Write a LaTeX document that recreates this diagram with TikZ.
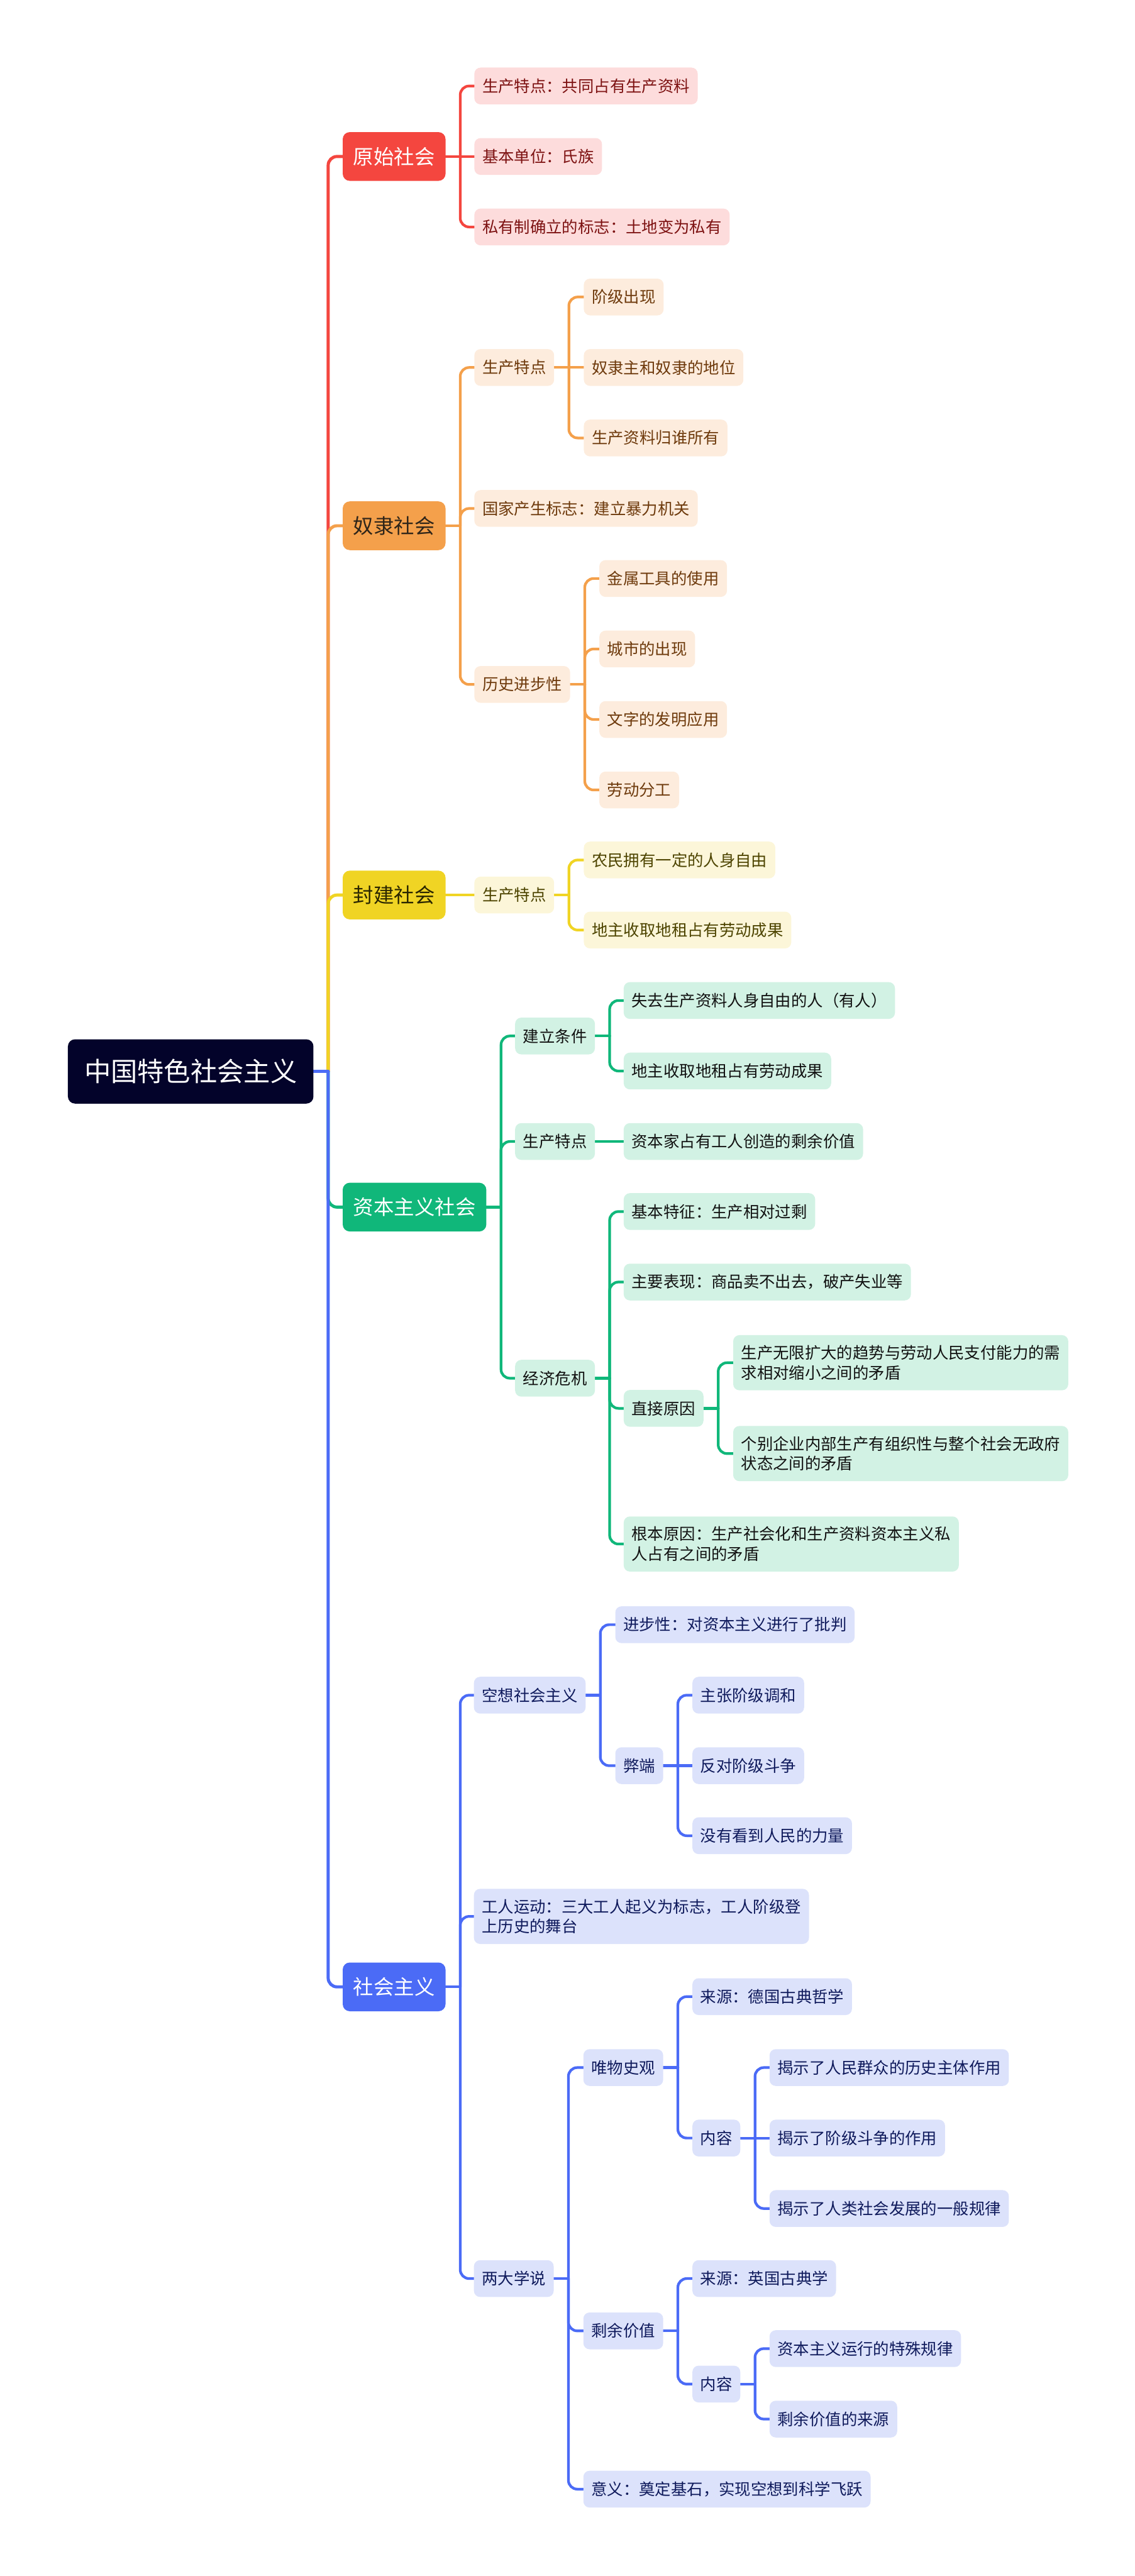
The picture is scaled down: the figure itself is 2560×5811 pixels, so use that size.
\documentclass[tikz,border=0pt]{standalone}
\usepackage{fontspec}
\setmainfont{Noto Sans CJK SC}
\usetikzlibrary{backgrounds}
\definecolor{rootc}{HTML}{03032A}
\definecolor{redm}{HTML}{F4463F}\definecolor{redl}{HTML}{FDDCDC}\definecolor{redt}{HTML}{7D1212}
\definecolor{orm}{HTML}{F4A04B}\definecolor{orl}{HTML}{FDECDD}\definecolor{ort}{HTML}{6E3A0C}\definecolor{ormt}{HTML}{2F2519}
\definecolor{yem}{HTML}{F0D424}\definecolor{yel}{HTML}{FCF6D9}\definecolor{yet}{HTML}{4D4400}\definecolor{yemt}{HTML}{2A2600}
\definecolor{grm}{HTML}{10B77A}\definecolor{grl}{HTML}{D2F2E4}\definecolor{grt}{HTML}{111111}
\definecolor{blm}{HTML}{4B6BF6}\definecolor{bll}{HTML}{DCE2FB}\definecolor{blt}{HTML}{0F1A5C}
\tikzset{
  rootbox/.style={fill=rootc,text=white,rounded corners=16pt,inner xsep=37pt,inner ysep=0pt,minimum height=145pt,anchor=west,font=\fontsize{60}{70}\selectfont},
  lone/.style={rounded corners=16pt,inner xsep=24pt,inner ysep=0pt,minimum height=110pt,anchor=west,font=\fontsize{46}{55}\selectfont},
  sub/.style={rounded corners=14pt,inner xsep=18pt,inner ysep=23pt,minimum height=83pt,anchor=west,align=left,font=\fontsize{36}{45}\selectfont},
  rA/.style={lone,fill=redm,text=white}, rB/.style={sub,fill=redl,text=redt},
  oA/.style={lone,fill=orm,text=ormt}, oB/.style={sub,fill=orl,text=ort},
  yA/.style={lone,fill=yem,text=yemt}, yB/.style={sub,fill=yel,text=yet},
  gA/.style={lone,fill=grm,text=white}, gB/.style={sub,fill=grl,text=grt},
  bA/.style={lone,fill=blm,text=white}, bB/.style={sub,fill=bll,text=blt},
  tk/.style={line width=7pt,line cap=round,rounded corners=20pt},
  br/.style={line width=6pt,line cap=round,rounded corners=20pt},
}
\begin{document}
\begin{tikzpicture}[x=1pt,y=-1pt]
\useasboundingbox (0,0) rectangle (2560,5811);
% root
\node[rootbox] (r) at (153,2417) {中国特色社会主义};
% level 1
\node[rA] (a) at (773,353) {原始社会};
\node[oA] (b) at (773,1186) {奴隶社会};
\node[yA] (c) at (773,2019) {封建社会};
\node[gA] (d) at (773,2723) {资本主义社会};
\node[bA] (e) at (773,4482) {社会主义};
% red
\node[rB] (a1) at (1070,194) {生产特点：共同占有生产资料};
\node[rB] (a2) at (1070,353) {基本单位：氏族};
\node[rB] (a3) at (1070,512) {私有制确立的标志：土地变为私有};
% orange
\node[oB] (b1) at (1070,829) {生产特点};
\node[oB] (b11) at (1317,670) {阶级出现};
\node[oB] (b12) at (1317,829) {奴隶主和奴隶的地位};
\node[oB] (b13) at (1317,988) {生产资料归谁所有};
\node[oB] (b2) at (1070,1147) {国家产生标志：建立暴力机关};
\node[oB] (b3) at (1070,1544) {历史进步性};
\node[oB] (b31) at (1352,1305) {金属工具的使用};
\node[oB] (b32) at (1352,1464) {城市的出现};
\node[oB] (b33) at (1352,1623) {文字的发明应用};
\node[oB] (b34) at (1352,1782) {劳动分工};
% yellow
\node[yB] (c1) at (1070,2019) {生产特点};
\node[yB] (c11) at (1317,1940) {农民拥有一定的人身自由};
\node[yB] (c12) at (1317,2098) {地主收取地租占有劳动成果};
% green
\node[gB] (d1) at (1162,2337) {建立条件};
\node[gB] (d11) at (1407,2257) {失去生产资料人身自由的人（有人）};
\node[gB] (d12) at (1407,2416) {地主收取地租占有劳动成果};
\node[gB] (d2) at (1162,2575) {生产特点};
\node[gB] (d21) at (1407,2575) {资本家占有工人创造的剩余价值};
\node[gB] (d3) at (1162,3109) {经济危机};
\node[gB] (d31) at (1407,2733) {基本特征：生产相对过剩};
\node[gB] (d32) at (1407,2892) {主要表现：商品卖不出去，破产失业等};
\node[gB] (d33) at (1407,3177) {直接原因};
\node[gB] (d331) at (1654,3074) {生产无限扩大的趋势与劳动人民支付能力的需\\求相对缩小之间的矛盾};
\node[gB] (d332) at (1654,3279) {个别企业内部生产有组织性与整个社会无政府\\状态之间的矛盾};
\node[gB] (d34) at (1407,3483) {根本原因：生产社会化和生产资料资本主义私\\人占有之间的矛盾};
% blue
\node[bB] (e1) at (1069,3824) {空想社会主义};
\node[bB] (e11) at (1388,3665) {进步性：对资本主义进行了批判};
\node[bB] (e12) at (1388,3983) {弊端};
\node[bB] (e121) at (1562,3824) {主张阶级调和};
\node[bB] (e122) at (1562,3983) {反对阶级斗争};
\node[bB] (e123) at (1562,4141) {没有看到人民的力量};
\node[bB] (e2) at (1069,4323) {工人运动：三大工人起义为标志，工人阶级登\\上历史的舞台};
\node[bB] (e3) at (1069,5140) {两大学说};
\node[bB] (e31) at (1316,4664) {唯物史观};
\node[bB] (e311) at (1562,4504) {来源：德国古典哲学};
\node[bB] (e312) at (1562,4823) {内容};
\node[bB] (e3121) at (1736,4664) {揭示了人民群众的历史主体作用};
\node[bB] (e3122) at (1736,4823) {揭示了阶级斗争的作用};
\node[bB] (e3123) at (1736,4982) {揭示了人类社会发展的一般规律};
\node[bB] (e32) at (1316,5258) {剩余价值};
\node[bB] (e321) at (1562,5140) {来源：英国古典学};
\node[bB] (e322) at (1562,5378) {内容};
\node[bB] (e3221) at (1736,5298) {资本主义运行的特殊规律};
\node[bB] (e3222) at (1736,5457) {剩余价值的来源};
\node[bB] (e33) at (1316,5615) {意义：奠定基石，实现空想到科学飞跃};
% connectors
\begin{scope}[on background layer]
\coordinate (rj) at ([xshift=33pt]r.east);
\draw[tk,redm] (rj) |- (a.west);
\draw[tk,orm] (rj) |- (b.west);
\draw[tk,yem] (rj) |- (c.west);
\draw[tk,grm] (rj) |- (d.west);
\draw[tk,blm] (rj) |- (e.west);
\draw[tk,blm,rounded corners=0pt] (r.east) -- (rj);
% red
\draw[br,redm] (a.east) -- ++(33,0) coordinate (aj);
\foreach \n in {a1,a3} \draw[br,redm] (aj) |- (\n.west);
\draw[br,redm] (aj) -- (a2.west);
% orange
\draw[br,orm] (b.east) -- ++(33,0) coordinate (bj);
\foreach \n in {b1,b2,b3} \draw[br,orm] (bj) |- (\n.west);
\draw[br,orm] (b1.east) -- ++(33,0) coordinate (b1j);
\foreach \n in {b11,b13} \draw[br,orm] (b1j) |- (\n.west);
\draw[br,orm] (b1j) -- (b12.west);
\draw[br,orm] (b3.east) -- ++(33,0) coordinate (b3j);
\foreach \n in {b31,b32,b33,b34} \draw[br,orm] (b3j) |- (\n.west);
% yellow
\draw[br,yem] (c.east) -- ++(33,0) coordinate (cj);
\draw[br,yem] (cj) -- (c1.west);
\draw[br,yem] (c1.east) -- ++(33,0) coordinate (c1j);
\foreach \n in {c11,c12} \draw[br,yem] (c1j) |- (\n.west);
% green
\draw[br,grm] (d.east) -- ++(33,0) coordinate (dj);
\foreach \n in {d1,d2,d3} \draw[br,grm] (dj) |- (\n.west);
\draw[br,grm] (d1.east) -- ++(33,0) coordinate (d1j);
\foreach \n in {d11,d12} \draw[br,grm] (d1j) |- (\n.west);
\draw[br,grm] (d2.east) -- ++(33,0) coordinate (d2j);
\draw[br,grm] (d2j) -- (d21.west);
\draw[br,grm] (d3.east) -- ++(33,0) coordinate (d3j);
\foreach \n in {d31,d32,d33,d34} \draw[br,grm] (d3j) |- (\n.west);
\draw[br,grm] (d33.east) -- ++(33,0) coordinate (d33j);
\foreach \n in {d331,d332} \draw[br,grm] (d33j) |- (\n.west);
% blue
\draw[br,blm] (e.east) -- ++(33,0) coordinate (ej);
\foreach \n in {e1,e2,e3} \draw[br,blm] (ej) |- (\n.west);
\draw[br,blm] (e1.east) -- ++(33,0) coordinate (e1j);
\foreach \n in {e11,e12} \draw[br,blm] (e1j) |- (\n.west);
\draw[br,blm] (e12.east) -- ++(33,0) coordinate (e12j);
\foreach \n in {e121,e123} \draw[br,blm] (e12j) |- (\n.west);
\draw[br,blm] (e12j) -- (e122.west);
\draw[br,blm] (e3.east) -- ++(33,0) coordinate (e3j);
\foreach \n in {e31,e32,e33} \draw[br,blm] (e3j) |- (\n.west);
\draw[br,blm] (e31.east) -- ++(33,0) coordinate (e31j);
\foreach \n in {e311,e312} \draw[br,blm] (e31j) |- (\n.west);
\draw[br,blm] (e312.east) -- ++(33,0) coordinate (e312j);
\foreach \n in {e3121,e3123} \draw[br,blm] (e312j) |- (\n.west);
\draw[br,blm] (e312j) -- (e3122.west);
\draw[br,blm] (e32.east) -- ++(33,0) coordinate (e32j);
\foreach \n in {e321,e322} \draw[br,blm] (e32j) |- (\n.west);
\draw[br,blm] (e322.east) -- ++(33,0) coordinate (e322j);
\foreach \n in {e3221,e3222} \draw[br,blm] (e322j) |- (\n.west);
\end{scope}
\end{tikzpicture}
\end{document}
